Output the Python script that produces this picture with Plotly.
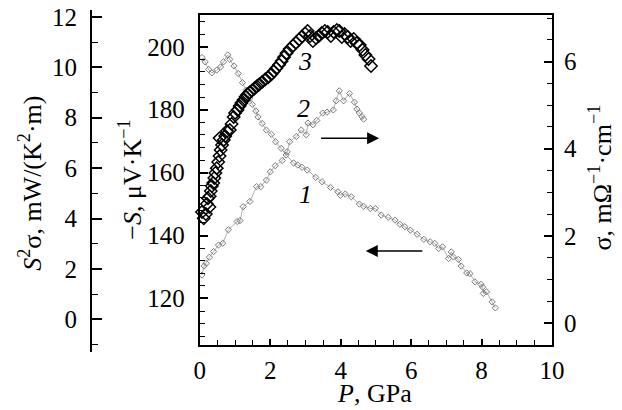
import plotly.graph_objects as go

# ---------------- data ----------------
# Curve 1: -S (uV/K) vs P (GPa)
P1 = [0.06, 0.15, 0.25, 0.34, 0.48, 0.59, 0.67, 0.79, 0.85, 0.97, 1.09, 1.21, 1.32, 1.42,
      1.49, 1.59, 1.65, 1.77, 1.89, 2.03, 2.15, 2.31, 2.45, 2.66, 2.78, 2.90, 3.05, 3.29,
      3.47, 3.71, 3.92, 3.99, 4.13, 4.30, 4.53, 4.65, 4.84, 4.98, 5.15, 5.35, 5.54, 5.68,
      5.82, 5.98, 6.17, 6.36, 6.54, 6.67, 6.78, 6.89, 7.06, 7.14, 7.20, 7.34, 7.42, 7.58,
      7.67, 7.81, 7.98, 8.03, 8.05, 8.14, 8.30, 8.39]
S1 = [196.6, 195.2, 192.8, 191.7, 192.6, 193.6, 195.2, 197.4, 196.0, 193.9, 191.5, 188.6,
      186.2, 183.6, 181.7, 179.6, 177.7, 175.6, 173.5, 172.2, 169.8, 167.7, 165.6, 163.1,
      162.4, 161.7, 160.8, 158.5, 157.1, 155.3, 153.9, 152.8, 153.2, 152.3, 150.0, 149.3,
      148.6, 148.6, 146.5, 145.8, 144.9, 143.6, 142.8, 141.7, 140.4, 138.8, 138.0, 137.5,
      135.9, 136.4, 132.7, 134.8, 133.2, 132.4, 130.3, 128.1, 127.9, 125.3, 124.5, 123.6,
      121.6, 122.1, 118.9, 117.0]

# Curve 2: sigma (mOhm^-1 cm^-1) vs P (GPa)
P2 = [0.06, 0.12, 0.18, 0.27, 0.39, 0.53, 0.65, 0.81, 1.06, 1.14, 1.23, 1.42, 1.61, 1.73,
      1.89, 2.00, 2.14, 2.34, 2.48, 2.55, 2.74, 2.88, 3.02, 3.07, 3.21, 3.32, 3.49, 3.61,
      3.79, 3.87, 3.96, 4.08, 4.25, 4.39, 4.46, 4.53, 4.60, 4.65]
SIG2 = [1.10, 1.31, 1.37, 1.51, 1.64, 1.79, 1.83, 2.14, 2.33, 2.35, 2.67, 2.79, 3.13, 3.13,
        3.28, 3.47, 3.61, 3.73, 3.93, 4.16, 4.28, 4.43, 4.32, 4.59, 4.55, 4.65, 4.82, 4.84,
        4.89, 5.10, 5.33, 5.10, 5.27, 5.07, 4.91, 4.82, 4.74, 4.68]

# Curve 3: power factor S^2*sigma (mW/(K^2 m)) vs P (GPa)
P3 = [0.06, 0.11, 0.17, 0.20, 0.23, 0.27, 0.28, 0.31, 0.34, 0.38, 0.41, 0.44, 0.48, 0.52,
      0.56, 0.59, 0.63, 0.68, 0.56, 0.72, 0.77, 0.85, 0.90, 0.96, 1.00, 1.07, 1.13, 1.18,
      1.24, 1.30, 1.35, 1.41, 1.48, 1.55, 1.62, 1.69, 1.77, 1.86, 1.94, 2.03, 2.10, 2.17,
      2.25, 2.32, 2.39, 2.46, 2.55, 2.65, 2.73, 2.82, 2.90, 2.99, 3.06, 3.13, 3.21, 3.30,
      3.38, 3.46, 3.55, 3.63, 3.72, 3.80, 3.89, 3.96, 4.03, 4.11, 4.20, 4.28, 4.37, 4.45,
      4.54, 4.62, 4.70, 4.79, 4.86]
PF3 = [4.26, 4.01, 4.18, 4.58, 4.81, 4.46, 4.89, 5.09, 5.29, 5.41, 5.61, 5.81, 6.00, 6.24,
       6.48, 6.72, 6.92, 7.12, 7.19, 7.27, 7.47, 7.51, 7.75, 8.03, 8.19, 8.31, 8.46, 8.58,
       8.70, 8.83, 8.92, 9.00, 9.08, 9.16, 9.25, 9.33, 9.42, 9.52, 9.60, 9.72, 9.84, 9.96,
       10.10, 10.24, 10.40, 10.56, 10.72, 10.86, 10.98, 11.10, 11.22, 11.34, 11.44, 11.24,
       11.04, 11.16, 11.24, 11.36, 11.44, 11.40, 11.24, 11.40, 11.48, 11.44, 11.20, 11.32,
       11.20, 11.04, 11.12, 10.96, 10.88, 10.69, 10.49, 10.33, 10.05]

X_TICKS = [0, 2, 4, 6, 8, 10]
S_TICKS = [120, 140, 160, 180, 200]
SIG_TICKS = [0, 2, 4, 6]
PF_TICKS = [0, 2, 4, 6, 8, 10, 12]

# ---------------- layout geometry ----------------
W, H = 622, 410
ML, MR, MT, MB = 0, 70, 10, 58
PW = W - ML - MR
PH = H - MT - MB
FRAME_L, FRAME_R, FRAME_T, FRAME_B = 196, 552, 15, 345
PF_AXIS_X = 86


def px_x(px):
    return (px - ML) / PW


def px_y(py):
    return (H - MB - py) / PH


FONT = "Liberation Serif"
TICKF = dict(family=FONT, size=25, color="black")
TITLEF = dict(family=FONT, size=26, color="black")
GRAY = "#7a7a7a"

xdom = [px_x(FRAME_L), px_x(FRAME_R)]
ydom = [px_y(FRAME_B), px_y(FRAME_T)]

fig = go.Figure()

fig.add_trace(go.Scatter(
    x=P1, y=S1, xaxis="x", yaxis="y", mode="lines+markers",
    line=dict(color="#9a9a9a", width=0.8),
    marker=dict(symbol="diamond-open", size=4.8, color=GRAY, line=dict(width=1, color=GRAY)),
    showlegend=False, cliponaxis=False))

fig.add_trace(go.Scatter(
    x=P2, y=SIG2, xaxis="x", yaxis="y2", mode="lines+markers",
    line=dict(color="#9a9a9a", width=0.8),
    marker=dict(symbol="diamond-open", size=4.8, color=GRAY, line=dict(width=1, color=GRAY)),
    showlegend=False, cliponaxis=False))

fig.add_trace(go.Scatter(
    x=P3, y=PF3, xaxis="x", yaxis="y3", mode="markers",
    marker=dict(symbol="diamond-open", size=9.5, color="black", line=dict(width=1.5, color="black")),
    showlegend=False, cliponaxis=False))

common = dict(showgrid=False, zeroline=False, showline=True, linecolor="black",
              tickcolor="black", tickfont=TICKF)

fig.update_layout(
    width=W, height=H,
    margin=dict(l=ML, r=MR, t=MT, b=MB, pad=0),
    paper_bgcolor="white", plot_bgcolor="rgba(0,0,0,0)",
    font=dict(family=FONT, color="black"),
    xaxis=dict(domain=xdom, anchor="y", range=[0, 10], tickvals=X_TICKS,
               ticks="inside", ticklen=6, tickwidth=1.5, linewidth=2, mirror=True,
               minor=dict(dtick=0.5, ticks="inside", ticklen=5, tickwidth=1.2, tickcolor="black"),
               ticklabelstandoff=2, **common),
    yaxis=dict(domain=ydom, anchor="x", range=[105.2, 210.1], tickvals=S_TICKS,
               ticks="inside", ticklen=8, tickwidth=1.5, linewidth=2,
               minor=dict(dtick=4, tick0=0, ticks="inside", ticklen=5, tickwidth=1.2, tickcolor="black"),
               ticklabelstandoff=8, **common),
    yaxis2=dict(overlaying="y", anchor="x", side="right", range=[-0.505, 7.07],
                tickvals=SIG_TICKS, ticks="inside", ticklen=8, tickwidth=1.5, linewidth=2,
                minor=dict(dtick=0.5, tick0=0, ticks="inside", ticklen=5, tickwidth=1.2, tickcolor="black"),
                ticklabelstandoff=5, **common),
    yaxis3=dict(domain=[0, 1], anchor="free", position=px_x(PF_AXIS_X), side="left",
                range=[-1.29, 12.27], tickvals=PF_TICKS,
                ticks="inside", ticklen=10, tickwidth=1.5, linewidth=2,
                minor=dict(dtick=1, tick0=0, ticks="inside", ticklen=6, tickwidth=1.2, tickcolor="black"),
                ticklabelstandoff=8, **common),
)

# axis titles (placed as annotations for precise positioning)
titles = [
    ("<i>S</i><sup>2</sup>σ, mW/(K<sup>2</sup>·m)", 25, 183, -90, "middle"),
    ("−<i>S</i>, μV·K<sup>−1</sup>", 125, 180, -90, "middle"),
    ("σ, mΩ<sup>−1</sup>·cm<sup>−1</sup>", 601, 177, -90, "middle"),
    ("<i>P</i>, GPa", 373, 410, 0, "bottom"),
]
for txt, cx, cy, ang, ya in titles:
    fig.add_annotation(x=px_x(cx), y=px_y(cy), xref="paper", yref="paper", text=txt,
                       showarrow=False, textangle=ang, xanchor="center", yanchor=ya,
                       font=TITLEF)

# curve labels
LABF = dict(family=FONT, size=26, color="black")
fig.add_annotation(x=2.99, y=153.1, xref="x", yref="y", text="<i>1</i>", showarrow=False, font=LABF)
fig.add_annotation(x=2.93, y=4.93, xref="x", yref="y2", text="<i>2</i>", showarrow=False, font=LABF)
fig.add_annotation(x=2.98, y=10.22, xref="x", yref="y3", text="<i>3</i>", showarrow=False, font=LABF)

# arrows indicating which axis each curve belongs to
fig.add_annotation(x=5.09, y=4.24, xref="x", yref="y2", ax=3.40, ay=4.24, axref="x", ayref="y2",
                   text="", showarrow=True, arrowhead=2, arrowsize=1.5, arrowwidth=1.6, arrowcolor="black")
fig.add_annotation(x=4.71, y=135.1, xref="x", yref="y", ax=6.36, ay=135.1, axref="x", ayref="y",
                   text="", showarrow=True, arrowhead=2, arrowsize=1.5, arrowwidth=1.6, arrowcolor="black")

fig.write_html("out.html")
